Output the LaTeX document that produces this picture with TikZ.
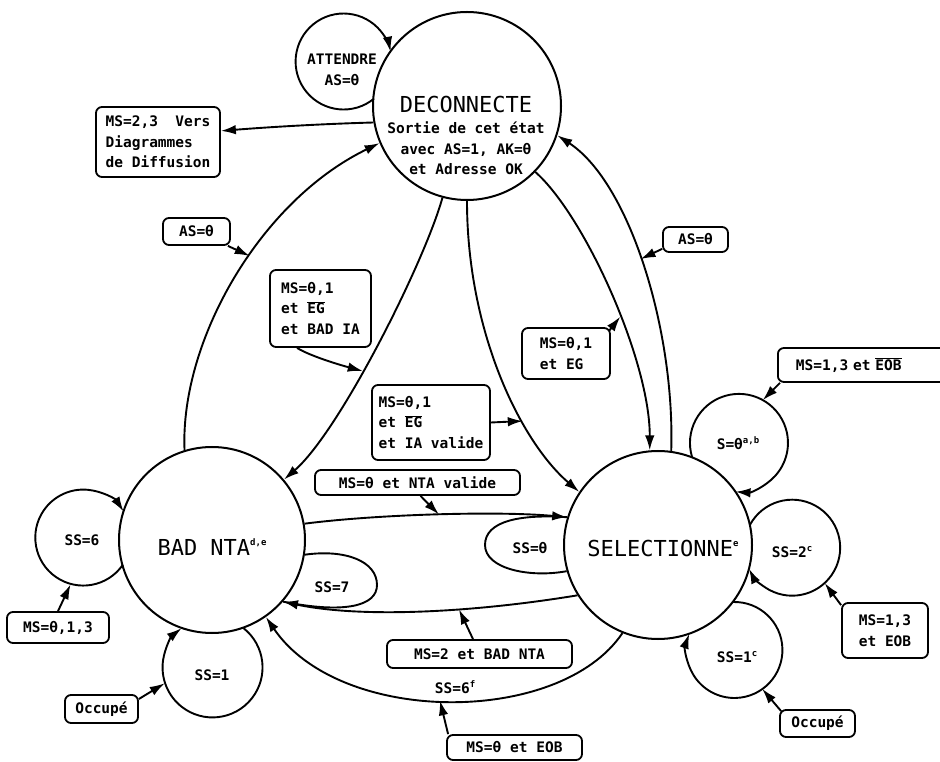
\documentclass[tikz,border=0pt]{standalone}
\usepackage{fontspec}
\setmainfont{DejaVu Sans Mono}[BoldFont=DejaVu Sans Mono Bold]
\usetikzlibrary{arrows.meta}
\newcommand\smallmono{\fontsize{14.5}{20.5}\selectfont\bfseries}
\newcommand\bigmono{\fontsize{22}{26}\selectfont}
\newcommand\ovl[1]{$\overline{\hbox{#1}}$}
\newcommand\sps[1]{\raisebox{0.75ex}{\fontsize{9}{9}\selectfont\bfseries #1}}
\begin{document}
\begin{tikzpicture}[x=1pt,y=1pt,
  state/.style={circle,draw,line width=2pt,minimum size=#1,inner sep=0pt},
  sat/.style={circle,minimum size=#1,inner sep=0pt,outer sep=0pt},
  cond/.style={draw,rounded corners=6pt,line width=1.8pt,align=left,inner sep=2pt,font=\smallmono},
  arr/.style={line width=1.9pt,-{Latex[length=15pt,width=9.5pt]}},
  link/.style={line width=1.9pt},
  txt/.style={font=\smallmono,align=center,inner sep=0pt},
  big/.style={font=\bigmono,inner sep=0pt}]

\useasboundingbox (0,0) rectangle (940,761);
\fill[white] (0,0) rectangle (940,761);
\clip (0,0) rectangle (940,761);

% main states
\node[state=188pt] (dec) at (467,655) {};
\node[state=186pt] (bad) at (212,221) {};
\node[state=188pt] (sel) at (658,216) {};
\node[big] (dect) at (466,657) {DECONNECTE};
\node[txt] (decs) at (466,612.5) {Sortie de cet état\\avec AS=1, AK=θ\\et Adresse OK};
\node[big] (badt) at (212,214) {BAD NTA\sps{d,e}};
\node[big] (selt) at (663,213) {SELECTIONNE\sps{e}};

% self-loop states
\node[sat=96pt] (att) at (343,699) {};
\node[txt] (attt) at (342,691) {ATTENDRE\\AS=θ};
\node[sat=96pt] (ss6) at (83,223) {};
\node[txt] (ss6t) at (82,221) {SS=6};
\node[sat=100pt] (ss1) at (212,94) {};
\node[txt] (ss1t) at (212,86) {SS=1};
\node[sat=98pt] (s0ab) at (739,318) {};
\node[txt] (s0abt) at (738,318) {S=θ\sps{a,b}};
\node[sat=96pt] (ss2) at (792,213) {};
\node[txt] (ss2t) at (792,209) {SS=2\sps{c}};
\node[sat=96pt] (ss1c) at (734,111) {};
\node[txt] (ss1ct) at (737,104) {SS=1\sps{c}};
\node[txt] (ss0t) at (530,213) {SS=θ};
\node[txt] (ss7t) at (332,174) {SS=7};
\node[txt] (ss6ft) at (455,74) {SS=6\sps{f}};

% condition boxes
\node[cond,minimum width=124pt,minimum height=70pt] (diff) at (158,619) {MS=2,3\ \ Vers\\Diagrammes\\de Diffusion};
\node[cond,minimum width=67pt,minimum height=27pt] (asl) at (196.5,529.5) {AS=θ};
\node[cond,minimum width=101pt,minimum height=77pt] (badia) at (320.5,452.5) {MS=θ,1\\et \ovl{EG}\\et BAD IA};
\node[cond,minimum width=118pt,minimum height=75pt] (iaval) at (431,338.5) {MS=θ,1\\et \ovl{EG}\\et IA valide};
\node[cond,minimum width=88pt,minimum height=51pt] (eg) at (566,407.5) {MS=θ,1\\et EG};
\node[cond,minimum width=65pt,minimum height=25pt] (asr) at (695.5,521.5) {AS=θ};
\node[cond,minimum width=205pt,minimum height=25pt] (nta) at (417.5,278.5) {MS=θ et NTA valide};
\node[cond,minimum width=185pt,minimum height=28pt] (mbad) at (479.5,107) {MS=2 et BAD NTA};
\node[cond,minimum width=135pt,minimum height=25pt] (eob) at (514.5,13.5) {MS=θ et EOB};
\node[cond,minimum width=102pt,minimum height=31pt] (msl) at (58,133.5) {MS=θ,1,3};
\node[cond,minimum width=73pt,minimum height=28pt] (occl) at (101.5,52) {Occupé};
\node[cond,anchor=west,text width=150pt,inner xsep=18pt,minimum height=34pt] (msr) at (777,396) {MS=1,3 et \ovl{EOB}};
\node[cond,minimum width=86pt,minimum height=55pt] (ms13) at (885,130.5) {MS=1,3\\et EOB};
\node[cond,minimum width=75pt,minimum height=27pt] (occr) at (817.5,37.5) {Occupé};

% transitions between main states
\draw[arr] (dec.190) .. controls (320,637) and (270,634) .. (diff.10);
\draw[arr] (bad.107) .. controls (180,420) and (260,560) .. coordinate[pos=0.565] (jasl) (dec.203);
\draw[arr] (dec.255) .. controls (425,500) and (340,330) .. coordinate[pos=0.58] (jbia) (bad.40);
\draw[arr] (dec.-44) .. controls (585,545) and (650,400) .. coordinate[pos=0.57] (jeg) (sel.95);
\draw[arr] (dec.270) .. controls (467,430) and (520,320) .. coordinate[pos=0.66] (jia) (sel.146);
\draw[arr] (sel.82) .. controls (675,430) and (630,578) .. coordinate[pos=0.52] (jasr) (dec.-18);
\draw[arr] (bad.10) .. controls (380,247) and (500,250) .. coordinate[pos=0.5] (jnta) (sel.163);
\draw[arr] (sel.212) .. controls (470,148) and (360,143) .. coordinate[pos=0.37] (jmbad) (bad.-41);
\draw[arr] (sel.248) .. controls (560,35) and (340,35) .. coordinate[pos=0.52] (jeob) (bad.-55);

% SS=0 and SS=7 loops merging into the horizontal transitions
\draw[link] (sel.196) .. controls (530,183) and (485,192) .. (485,216) .. controls (485,240) and (520,247) .. (sel.163);
\draw[link] (bad.-9) .. controls (345,212) and (377,200) .. (377,176) .. controls (377,155) and (345,147) .. (bad.-41);

% condition arrows onto transitions
\draw[arr] ([xshift=-3pt]asl.south east) -- (jasl);
\draw[arr] ([xshift=-23.5pt]badia.south) .. controls (310,405) and (340,396) .. (jbia);
\draw[arr] ([xshift=-2pt,yshift=-4pt]eg.north east) -- (jeg);
\draw[arr] (iaval.east) -- (jia);
\draw[arr] ([yshift=4pt]asr.south west) -- (jasr);
\draw[arr] ([xshift=3pt]nta.south) -- (jnta);
\draw[arr] ([xshift=-6.5pt]mbad.north) -- (jmbad);
\draw[arr] ([xshift=2pt]eob.north west) -- (jeob);

% self loops
\draw[arr] (att.-50.91) arc[start angle=-50.91, end angle=-348.17, radius=48];
\draw[arr] (ss6.-34.61) arc[start angle=-34.61, end angle=-327.17, radius=48];
\draw[arr] (ss1.51.8) arc[start angle=51.8, end angle=-231.8, radius=50];
\draw[arr] (s0ab.197.13) arc[start angle=197.13, end angle=-94.03, radius=49];
\draw[arr] (ss2.151.42) arc[start angle=151.42, end angle=-153.98, radius=48];
\draw[arr] (ss1c.91.52) arc[start angle=91.52, end angle=-199.72, radius=48];

% condition arrows onto self loops
\draw[arr] (msl.north) -- (ss6.255);
\draw[arr] (occl.15) -- (ss1.199);
\draw[arr] ([xshift=3pt]msr.south west) -- (s0ab.61);
\draw[arr] ([yshift=-3pt]ms13.north west) -- (ss2.-47);
\draw[arr] ([shift={(2pt,-2pt)}]occr.north west) -- (ss1c.-54);
\end{tikzpicture}
\end{document}
